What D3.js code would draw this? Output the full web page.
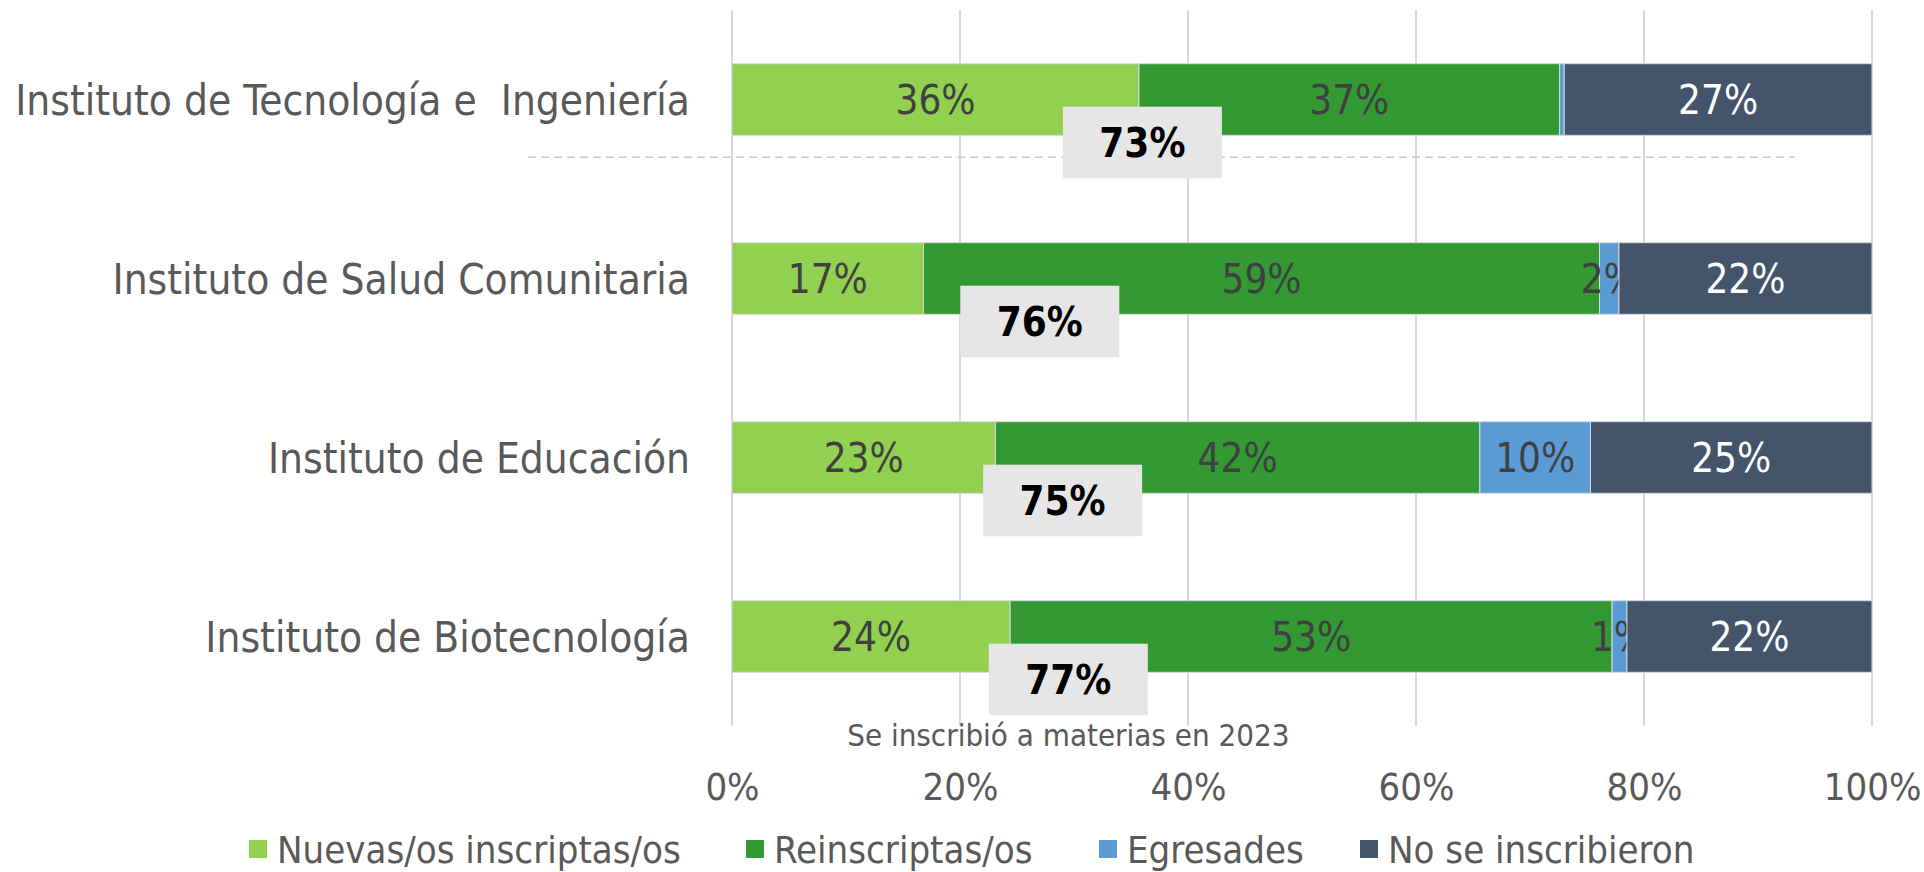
<!DOCTYPE html>
<html>
<head>
<meta charset="utf-8">
<script src="https://cdn.jsdelivr.net/npm/d3@7"></script>
<style>
  body { margin: 0; background: #fff; }
  svg text { font-family: 'Liberation Sans Narrow', 'DejaVu Sans Condensed', 'Roboto Condensed', 'Roboto', sans-serif; }
</style>
</head>
<body>
<svg id="chart" width="1924" height="872"></svg>
<script>
// data (percent of each instituto)
var institutos = ['Instituto de Tecnología e  Ingeniería', 'Instituto de Salud Comunitaria', 'Instituto de Educación', 'Instituto de Biotecnología'];
var nuevas = [35.7, 16.8, 23.1, 24.4];
var reinscriptas = [36.9, 59.3, 42.5, 52.8];
var egresades = [0.4, 1.7, 9.7, 1.3];
var noInscriptos = [27.0, 22.2, 24.7, 21.5];
var inscriptos2023 = [73, 76, 75, 77];
var posTotal = [36, 27, 29, 29.5];   // where the grey total box sits, in %
var series = ['Nuevas/os inscriptas/os', 'Reinscriptas/os', 'Egresades', 'No se inscribieron'];
var colores = ['#92d050', '#339933', '#5b9bd5', '#44546a'];
var tickVals = [0, 20, 40, 60, 80, 100];
var subtitulo = 'Se inscribió a materias en 2023';

var keys = ['nuevas', 'reinscriptas', 'egresades', 'no'];
var table = institutos.map(function(d, i) {
  return { inst: d, nuevas: nuevas[i], reinscriptas: reinscriptas[i], egresades: egresades[i], no: noInscriptos[i] };
});

var svg = d3.select('#chart');
var plotLeft = 732, plotRight = 1872, plotTop = 10, plotBottom = 726;

var x = d3.scaleLinear().domain([0, 100]).range([plotLeft, plotRight]);
var y = d3.scaleBand().domain(institutos).range([plotTop, plotBottom]).paddingInner(0.6).paddingOuter(0.3);
var color = d3.scaleOrdinal().domain(keys).range(colores);

// gridlines
svg.append('g').selectAll('line')
   .data(tickVals)
   .enter()
   .append('line')
   .attr('x1', d => x(d)).attr('x2', d => x(d))
   .attr('y1', plotTop).attr('y2', plotBottom)
   .attr('stroke', '#d9d9d9')
   .attr('stroke-width', 2);

// dashed separator under the first instituto
var sepY = y(institutos[0]) + y.bandwidth() + 22;
svg.append('line')
   .attr('x1', 528).attr('x2', 1795)
   .attr('y1', sepY).attr('y2', sepY)
   .attr('stroke', '#c8c8c8')
   .attr('stroke-width', 1.5)
   .attr('stroke-dasharray', '8,5');

var stacked = d3.stack().keys(keys)(table);

var layers = svg.append('g').selectAll('g')
   .data(stacked)
   .enter()
   .append('g')
   .attr('fill', d => color(d.key));

layers.selectAll('rect')
   .data(d => d)
   .enter()
   .append('rect')
   .attr('x', d => x(d[0]))
   .attr('y', d => y(d.data.inst))
   .attr('width', d => x(d[1]) - x(d[0]))
   .attr('height', y.bandwidth())
   .attr('stroke', '#d6dae0')
   .attr('stroke-width', 1);

// segment labels
layers.selectAll('text')
   .data(function(d) { return d.map(function(s) { s.key = d.key; return s; }); })
   .enter()
   .filter(d => (d[1] - d[0]) >= 0.5)
   .append('text')
   .text(d => Math.round(d[1] - d[0]) + '%')
   .attr('x', d => x((d[0] + d[1]) / 2))
   .attr('y', d => y(d.data.inst) + y.bandwidth() / 2)
   .attr('dy', '0.36em')
   .attr('text-anchor', 'middle')
   .attr('font-size', '40px')
   .attr('fill', d => d.key == 'no' ? '#ffffff' : '#404040');

// grey total boxes
var boxW = 159;
var boxes = svg.append('g').selectAll('g')
   .data(inscriptos2023)
   .enter()
   .append('g')
   .attr('transform', function(d, i) {
     return 'translate(' + (x(posTotal[i]) - boxW / 2) + ',' + (y(institutos[i]) + 43) + ')';
   });
boxes.append('rect')
   .attr('width', boxW)
   .attr('height', y.bandwidth())
   .attr('fill', '#e6e6e6');
boxes.append('text')
   .text(d => d + '%')
   .attr('x', boxW / 2)
   .attr('y', y.bandwidth() / 2)
   .attr('dy', '0.36em')
   .attr('text-anchor', 'middle')
   .attr('font-size', '40px')
   .attr('font-weight', 'bold')
   .attr('fill', '#000');

// category labels
svg.append('g').selectAll('text')
   .data(institutos)
   .enter()
   .append('text')
   .text(d => d)
   .style('white-space', 'pre')
   .attr('x', 690)
   .attr('y', d => y(d) + y.bandwidth() / 2)
   .attr('dy', '0.36em')
   .attr('text-anchor', 'end')
   .attr('font-size', '42px')
   .attr('fill', '#595959');

// x axis
var xAxis = d3.axisBottom(x).tickValues(tickVals).tickFormat(d => d + '%').tickSize(0);
var ax = svg.append('g')
   .attr('transform', 'translate(0,' + 770 + ')')
   .call(xAxis);
ax.select('.domain').remove();
ax.selectAll('text')
   .attr('font-size', '38px')
   .attr('fill', '#595959')
   .style('font-family', null);
ax.attr('font-family', null);

// subtitle
svg.append('text')
   .text(subtitulo)
   .attr('x', x(29.5))
   .attr('y', 746)
   .attr('text-anchor', 'middle')
   .attr('font-size', '31px')
   .attr('fill', '#595959');

// legend
var legX = [249, 746, 1099, 1360];
var leg = svg.append('g').selectAll('g')
   .data(series)
   .enter()
   .append('g')
   .attr('transform', (d, i) => 'translate(' + legX[i] + ',' + 849 + ')');
leg.append('rect')
   .attr('x', 0).attr('y', -9)
   .attr('width', 18).attr('height', 18)
   .attr('fill', (d, i) => colores[i]);
leg.append('text')
   .text(d => d)
   .attr('x', 28)
   .attr('dy', '0.36em')
   .attr('font-size', '38px')
   .attr('fill', '#595959');
</script>
</body>
</html>
